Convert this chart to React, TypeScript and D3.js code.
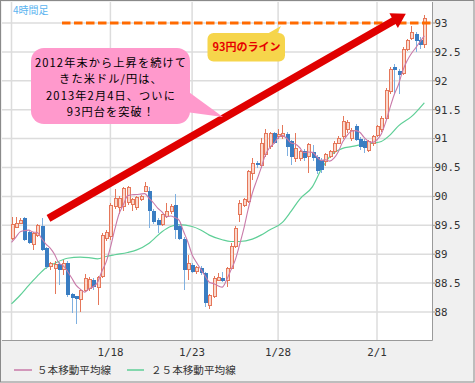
import React from 'react';
import * as d3 from 'd3';

const W = 475;
const H = 383;

// 4-hour candles (USD/JPY)
const opens = [89.28, 89.47, 89.53, 89.62, 89.38, 89.16, 89.33, 89.48, 89.11, 88.78,
  88.76, 88.83, 88.73, 88.84, 88.31, 88.27, 88.22, 88.38, 88.40, 88.56,
  88.42, 88.61, 89.27, 89.30, 89.82, 89.80, 89.82, 89.90, 89.86, 89.80,
  89.94, 90.09, 90.10, 89.74, 89.59, 89.51, 89.65, 89.74, 89.85, 89.48,
  89.27, 88.73, 88.81, 88.70, 88.76, 88.67, 88.12, 88.26, 88.55, 88.59,
  88.55, 88.76, 89.13, 89.68, 89.85, 89.91, 90.40, 90.57, 90.54, 90.72,
  90.86, 91.09, 91.03, 91.03, 91.08, 90.95, 90.66, 90.66, 90.79, 90.69,
  90.77, 90.69, 90.63, 90.60, 90.69, 90.77, 90.92, 91.03, 91.15, 91.00,
  91.21, 91.00, 90.96, 90.80, 90.92, 91.06, 91.16, 91.35, 91.81, 92.24,
  92.17, 92.13, 92.55, 92.73, 92.81, 92.71, 92.62];
const highs = [89.65, 89.65, 89.63, 89.64, 89.40, 89.38, 89.52, 89.63, 89.13, 88.86,
  88.88, 88.86, 88.90, 88.88, 88.33, 88.28, 88.40, 88.65, 88.60, 88.58,
  88.63, 89.36, 89.42, 89.88, 90.13, 90.00, 90.17, 90.18, 89.97, 90.00,
  90.02, 90.25, 90.17, 89.78, 89.62, 89.70, 89.88, 89.86, 90.04, 89.52,
  89.30, 88.99, 88.84, 88.80, 88.79, 88.70, 88.31, 88.62, 88.67, 88.70,
  88.78, 89.20, 89.48, 89.94, 89.97, 90.45, 90.67, 90.61, 91.01, 91.17,
  91.12, 91.12, 91.17, 91.23, 91.12, 90.98, 91.09, 90.80, 90.82, 90.92,
  90.89, 90.72, 90.66, 90.75, 90.80, 90.95, 91.04, 91.39, 91.32, 91.18,
  91.25, 91.03, 90.99, 90.97, 91.06, 91.24, 91.39, 91.88, 92.24, 92.29,
  92.20, 92.58, 92.72, 92.95, 92.85, 92.75, 93.14];
const lows = [89.25, 89.45, 89.52, 89.23, 89.17, 89.07, 89.30, 89.05, 88.75, 88.72,
  88.32, 88.47, 88.64, 88.26, 87.98, 87.80, 88.00, 88.35, 88.36, 88.38,
  88.12, 88.58, 89.22, 89.25, 89.78, 89.70, 89.74, 89.85, 89.75, 89.77,
  89.92, 90.07, 89.45, 89.52, 89.36, 89.48, 89.62, 89.70, 89.27, 89.25,
  88.38, 88.55, 88.68, 88.66, 88.64, 88.09, 88.06, 88.24, 88.53, 88.52,
  88.44, 88.74, 89.10, 89.56, 89.82, 89.88, 90.28, 90.50, 90.50, 90.68,
  90.82, 90.90, 91.00, 91.00, 90.70, 90.54, 90.60, 90.62, 90.62, 90.40,
  90.62, 90.38, 90.40, 90.52, 90.66, 90.74, 90.90, 91.00, 91.10, 90.96,
  90.96, 90.80, 90.75, 90.76, 90.88, 91.03, 91.12, 91.32, 91.78, 91.77,
  91.78, 92.10, 92.52, 92.70, 92.50, 92.55, 92.56];
const closes = [89.52, 89.53, 89.59, 89.25, 89.19, 89.36, 89.49, 89.07, 88.77, 88.84,
  88.83, 88.73, 88.84, 88.29, 88.25, 88.22, 88.38, 88.58, 88.57, 88.43,
  88.60, 89.33, 89.38, 89.85, 89.96, 89.96, 90.13, 90.15, 89.94, 89.98,
  90.00, 90.17, 89.74, 89.56, 89.51, 89.68, 89.74, 89.82, 89.42, 89.27,
  88.73, 88.84, 88.70, 88.77, 88.67, 88.15, 88.29, 88.58, 88.59, 88.54,
  88.76, 89.13, 89.45, 89.88, 89.94, 90.43, 90.57, 90.54, 90.92, 91.09,
  91.09, 90.92, 91.07, 91.09, 90.85, 90.69, 90.83, 90.77, 90.66, 90.89,
  90.66, 90.44, 90.46, 90.72, 90.77, 90.92, 91.00, 91.29, 91.28, 91.14,
  90.98, 90.86, 90.84, 90.95, 91.04, 91.21, 91.35, 91.84, 92.20, 92.19,
  92.10, 92.55, 92.69, 92.83, 92.68, 92.62, 93.08];
// closes just before the visible window (for the 5-bar average)
const prevCloses = [89.10, 89.12, 89.14, 89.15];

// 25-bar moving average, read at bar positions
const ma25Index = [0, 2, 4, 6, 8, 10, 13, 16, 18, 20, 22, 24, 27, 29, 32, 35, 37, 39, 42, 44,
  46, 49, 51, 53, 56, 58, 60, 63, 65, 67, 70, 72, 74, 77, 79, 81, 84, 86, 88, 90, 93, 96];
const ma25Value = [88.14, 88.29, 88.46, 88.62, 88.76, 88.84, 88.93, 88.95, 88.94, 88.92,
  88.96, 88.99, 89.03, 89.07, 89.19, 89.39, 89.48, 89.51, 89.48, 89.42,
  89.33, 89.25, 89.22, 89.22, 89.26, 89.33, 89.42, 89.55, 89.74, 89.95,
  90.17, 90.46, 90.69, 90.83, 90.86, 90.89, 90.92, 90.95, 91.06, 91.22, 91.38, 91.62];

const yTicks = [88, 88.5, 89, 89.5, 90, 90.5, 91, 91.5, 92, 92.5, 93];
const xTickIndex = [0, 23, 42, 62, 85];
const xTickLabel = ['', '1/18', '1/23', '1/28', '2/1'];

const periodLabel = '4時間足';
const calloutLines = ['2012年末から上昇を続けて', 'きた米ドル/円は、', '2013年2月4日、ついに', '93円台を突破！'];
const levelLabel = '93円のライン';
const levelValue = 93;
const legendLabels = ['５本移動平均線', '２５本移動平均線'];

// arrow anchors in (bar index, price)
const arrowFrom: [number, number] = [8.6, 89.62];
const arrowTo: [number, number] = [91.7, 93.16];

const PL = 2, PR = 432, PT = 2, PB = 340;

const UP_FILL = '#fbd8cc';
const UP_STROKE = '#e5775a';
const DOWN_FILL = '#3a7dc2';
const DOWN_WICK = '#7fb0e0';
const MA5_COLOR = '#c97aa9';
const MA25_COLOR = '#5fcf97';
const MONO = '"DejaVu Sans Mono", monospace';
const JP = '"Noto Sans CJK JP", sans-serif';

export default function App() {
  const x = d3.scaleLinear().domain([0, 96]).range([11.5, 424.3]);
  const y = d3.scaleLinear().domain([88, 93]).range([312, 23]);

  const all = prevCloses.concat(closes);
  const ma5: [number, number][] = closes.map((_, i) => [i, d3.mean(all.slice(i, i + 5)) as number]);
  const ma25: [number, number][] = ma25Index.map((idx, k) => [idx, ma25Value[k]]);

  const line = d3.line<[number, number]>()
    .x(d => x(d[0]))
    .y(d => y(d[1]))
    .curve(d3.curveMonotoneX);

  // arrow geometry
  const ax0 = x(arrowFrom[0]), ay0 = y(arrowFrom[1]);
  const ax1 = x(arrowTo[0]), ay1 = y(arrowTo[1]);
  const len = Math.hypot(ax1 - ax0, ay1 - ay0);
  const ux = (ax1 - ax0) / len, uy = (ay1 - ay0) / len;
  const px = -uy, py = ux;
  const sw = 3.8, hl = 14, hw = 8.5;
  const bx = ax1 - ux * hl, by = ay1 - uy * hl;
  const arrowPts = [
    [ax0 + px * sw, ay0 + py * sw],
    [bx + px * sw, by + py * sw],
    [bx + px * hw, by + py * hw],
    [ax1, ay1],
    [bx - px * hw, by - py * hw],
    [bx - px * sw, by - py * sw],
    [ax0 - px * sw, ay0 - py * sw],
  ].map(p => p.join(',')).join(' ');

  const yLevel = y(levelValue);
  const lineY = [62.5, 79, 95.5, 112];

  return (
    <svg width={W} height={H} style={{ position: 'absolute', left: 0, top: 0, display: 'block' }}
      xmlns="http://www.w3.org/2000/svg">
      <rect x={0} y={0} width={W} height={H} fill="#f0f0f0" />
      <rect x={PL} y={PT} width={PR - PL} height={PB - PT} fill="#ffffff" />
      <defs>
        <clipPath id="plotClip">
          <rect x={PL} y={PT} width={PR - PL} height={PB - PT} />
        </clipPath>
      </defs>

      {/* grid */}
      <g stroke="#dcdcdc" strokeWidth={1.5}>
        {yTicks.map(t => (
          <line key={'gy' + t} x1={PL} x2={PR} y1={y(t)} y2={y(t)} />
        ))}
        {xTickIndex.map(i => (
          <line key={'gx' + i} x1={x(i)} x2={x(i)} y1={PT} y2={PB} />
        ))}
      </g>

      <g clipPath="url(#plotClip)">
        {/* 25 MA */}
        <path d={line(ma25) || ''} fill="none" stroke={MA25_COLOR} strokeWidth={1.2} />

        {/* candles */}
        <g shapeRendering="crispEdges">
          {closes.map((c, i) => {
            const o = opens[i], h = highs[i], l = lows[i];
            const up = c >= o;
            const cx = Math.round(x(i));
            const top = y(Math.max(o, c)), bot = y(Math.min(o, c));
            return (
              <g key={'c' + i}>
                <line x1={cx + 0.5} x2={cx + 0.5} y1={y(h)} y2={y(l)}
                  stroke={up ? UP_STROKE : DOWN_WICK} strokeWidth={1} />
                {up ? (
                  <rect x={cx - 1} y={top} width={3} height={Math.max(1, bot - top)}
                    fill={UP_FILL} stroke={UP_STROKE} strokeWidth={1} />
                ) : (
                  <rect x={cx - 1} y={top} width={4} height={Math.max(1.5, bot - top)}
                    fill={DOWN_FILL} />
                )}
              </g>
            );
          })}
        </g>

        {/* 5 MA */}
        <path d={line(ma5) || ''} fill="none" stroke={MA5_COLOR} strokeWidth={1.1} />
      </g>

      {/* plot frame */}
      <line x1={PR + 0.5} x2={PR + 0.5} y1={PT} y2={PB + 0.5} stroke="#9a9a9a" strokeWidth={1} />
      <line x1={PL} x2={PR + 0.5} y1={PB + 0.5} y2={PB + 0.5} stroke="#9a9a9a" strokeWidth={1} />

      {/* y axis */}
      {yTicks.map(t => (
        <g key={'yt' + t}>
          <line x1={PR} x2={PR + 3} y1={y(t)} y2={y(t)} stroke="#9a9a9a" />
          <text x={PR + 2.5} y={y(t)} dy="0.36em" fontFamily={MONO} fontSize={10.8} fill="#333">
            {String(t)}
          </text>
        </g>
      ))}

      {/* x axis labels */}
      {xTickIndex.map((i, k) => (
        <text key={'xt' + i} x={x(i)} y={356} textAnchor="middle" fontFamily={MONO} fontSize={10.8} fill="#333">
          {xTickLabel[k]}
        </text>
      ))}

      {/* legend */}
      <line x1={14} x2={32} y1={370} y2={370} stroke={MA5_COLOR} strokeWidth={1.5} />
      <text x={37} y={370} dy="0.36em" fontFamily={JP} fontSize={10.6} fill="#333">{legendLabels[0]}</text>
      <line x1={127} x2={144} y1={370} y2={370} stroke={MA25_COLOR} strokeWidth={1.5} />
      <text x={151} y={370} dy="0.36em" fontFamily={JP} fontSize={10.6} fill="#333">{legendLabels[1]}</text>

      {/* period label */}
      <text x={13} y={10} dy="0.36em" fontFamily={JP} fontSize={10} fill="#5ab4f0">{periodLabel}</text>

      {/* 93 level dashed line */}
      <line x1={62} x2={PR} y1={yLevel} y2={yLevel} stroke="#ff6a00" strokeWidth={3.2} strokeDasharray="8.5,3.5" />

      {/* arrow */}
      <polygon points={arrowPts} fill="#e00000" />

      {/* yellow callout */}
      <path d="M267,34 L281,26 L277,34 Z" fill="#f6d54b" />
      <rect x={207.5} y={33} width={77.5} height={28.5} rx={6} fill="#f6d54b" />
      <text x={246.5} y={47.5} dy="0.36em" textAnchor="middle" fontFamily={JP} fontSize={11} fontWeight="bold" fill="#e60000">
        {levelLabel}
      </text>

      {/* pink callout */}
      <path d="M186,90 L223,117 L186,112 Z" fill="#ff99cc" />
      <rect x={31} y={48} width={159} height={76} rx={13} fill="#ff99cc" />
      {calloutLines.map((t, k) => (
        <text key={'cl' + k} x={111} y={lineY[k]} dy="0.36em" textAnchor="middle"
          fontFamily={JP} fontSize={11.2} letterSpacing={1.1} fill="#000">
          {t}
        </text>
      ))}

      {/* outer border */}
      <rect x={0.5} y={0.5} width={W - 1.5} height={H - 1.5} fill="none" stroke="#8a8a8a" strokeWidth={1} />
    </svg>
  );
}
